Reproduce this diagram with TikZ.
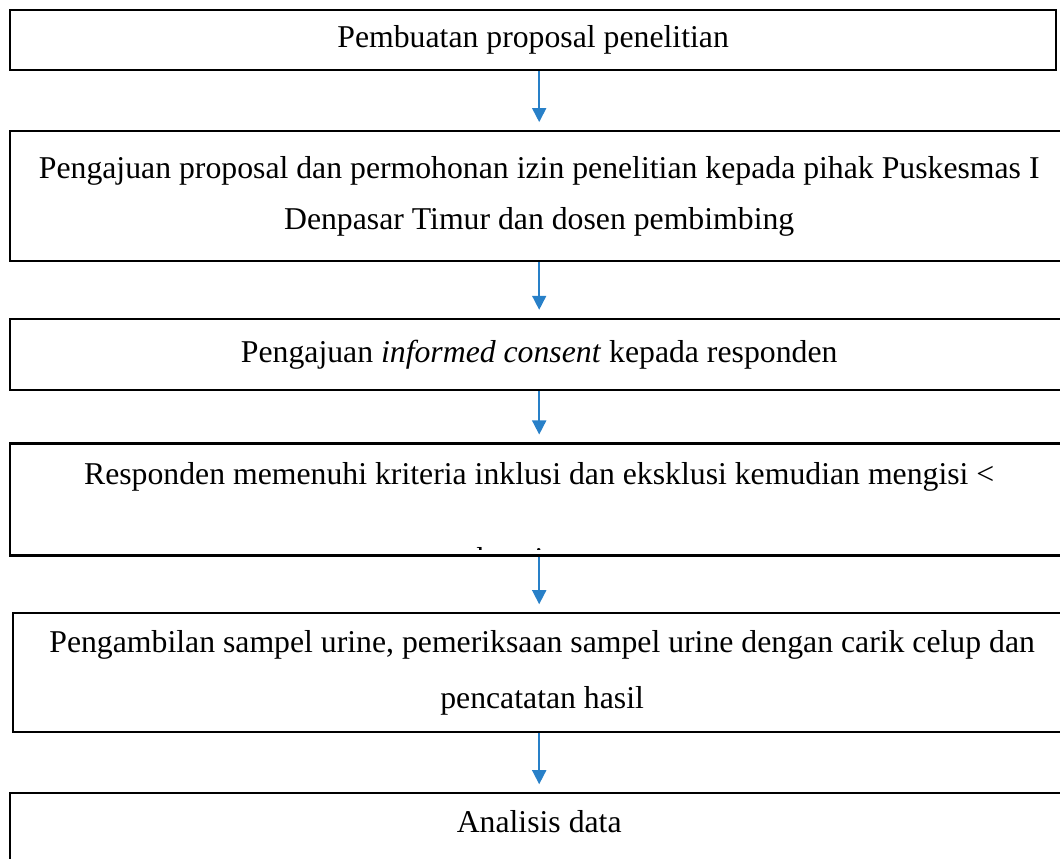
\documentclass[tikz,border=0pt]{standalone}
\usepackage{fontspec}
\setmainfont{Liberation Serif}
\usepackage{xcolor}
\usepackage{tikz}
\usetikzlibrary{arrows.meta, positioning}
\definecolor{arrowblue}{RGB}{40,128,200}

\begin{document}
\begin{tikzpicture}[
                node distance=21pt,
                box/.style={draw, line width=0.85pt, minimum width=400pt, inner sep=0pt, align=center, font=\fontsize{12}{19.3}\selectfont},
                arr/.style={-{Triangle[length=5.3pt, width=5.3pt]}, line width=0.65pt, color=arrowblue, shorten >=3pt}
            ]
                \useasboundingbox (0,0) rectangle (400.7pt,-324.7pt);
                \clip (0,0) rectangle (400.7pt,-324.7pt);

                \node[box, minimum width=395.4pt, minimum height=22.7pt, anchor=north west] (proposal) at (3.4pt,-3.4pt) {Pembuatan proposal penelitian};
                \node[box, minimum height=49.1pt, below=22.2pt of proposal.south west, anchor=north west] (izin) {Pengajuan proposal dan permohonan izin penelitian kepada pihak Puskesmas I\\Denpasar Timur dan dosen pembimbing};
                \node[box, minimum height=26.8pt, below=of izin.south west, anchor=north west] (consent) {Pengajuan \textit{informed consent} kepada responden};
                \node[box, minimum height=42.3pt, text depth=19.5pt, below=19.5pt of consent.south west, anchor=north west] (kriteria) {Responden memenuhi kriteria inklusi dan eksklusi kemudian mengisi <};
                \node[box, minimum height=45pt, font=\fontsize{12}{21.2}\selectfont, below=of kriteria.south west, anchor=north west, xshift=1.1pt] (sampel) {Pengambilan sampel urine, pemeriksaan sampel urine dengan carik celup dan\\pencatatan hasil};
                \node[box, minimum height=34pt, text depth=12.7pt, below=22.2pt of sampel.south west, anchor=north west, xshift=-1.1pt] (analisis) {Analisis data};

                % second line of the kriteria box, cut off by its border
                \begin{scope}
                    \clip (kriteria.north west) rectangle ([yshift=2.8pt]kriteria.south east);
                    \node[anchor=base west, inner sep=0pt, font=\fontsize{12}{14}\selectfont] (kuesioner) at ([xshift=176.5pt, yshift=-32.2pt]kriteria.base west) {kuesioner>};
                \end{scope}

                \draw[arr] (proposal.south -| izin.north) -- (izin.north);
                \draw[arr] (izin) -- (consent);
                \draw[arr] (consent) -- (kriteria);
                \draw[arr] (kriteria.south) -- (kriteria.south |- sampel.north);
                \draw[arr] (analisis.north |- sampel.south) -- (analisis.north);
            \end{tikzpicture}
\end{document}
